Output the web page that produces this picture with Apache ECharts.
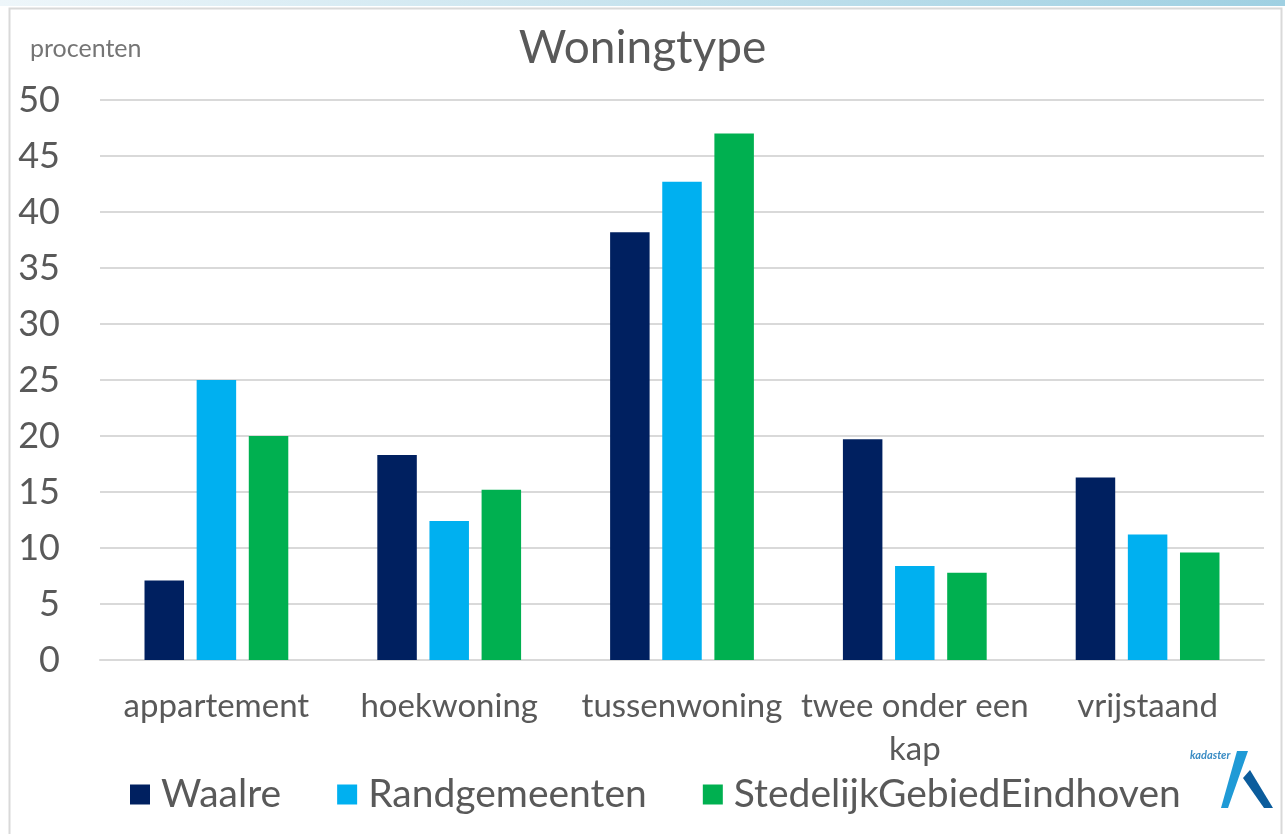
<!DOCTYPE html>
<html>
<head>
<meta charset="utf-8">
<script src="https://cdn.jsdelivr.net/npm/echarts@6/dist/echarts.min.js"></script>
<style>
html,body{margin:0;padding:0;background:#fff;}
#chart{width:1285px;height:834px;}
</style>
</head>
<body>
<div id="chart"></div>
<script>
const categories = ['appartement', 'hoekwoning', 'tussenwoning', 'twee onder een\nkap', 'vrijstaand'];
const waalre = [7.1, 18.3, 38.2, 19.7, 16.3];
const randgemeenten = [25.0, 12.4, 42.7, 8.4, 11.2];
const stedelijk = [20.0, 15.2, 47.0, 7.8, 9.6];
const seriesNames = ['Waalre', 'Randgemeenten', 'StedelijkGebiedEindhoven'];
const yTicks = {min: 0, max: 50, interval: 5};

const colors = ['#002060', '#00B0F0', '#00B050'];
const font = 'Lato, "Open Sans", sans-serif';
const chart = echarts.init(document.getElementById('chart'));
const mk = (name, data, i) => ({
  name, type: 'bar', data, barWidth: 39.5, barGap: '32%',
  itemStyle: {color: colors[i]}
});
chart.setOption({
  animation: false,
  title: {text: 'Woningtype', left: 'center', top: 20,
    textStyle: {fontFamily: font, fontSize: 46, fontWeight: 'normal', color: '#595959'}},
  grid: {left: 100, right: 21, top: 100, bottom: 174},
  legend: {bottom: 15, left: 125, itemWidth: 20, itemHeight: 20, itemGap: 56,
    icon: 'rect',
    textStyle: {fontFamily: font, fontSize: 39, color: '#595959', padding: [0,0,0,6]}},
  xAxis: {type: 'category', data: categories,
    axisLine: {lineStyle: {color: '#d9d9d9', width: 2}},
    axisTick: {show: false},
    axisLabel: {fontFamily: font, fontSize: 33, color: '#595959', margin: 25, lineHeight: 43, interval: 0}},
  yAxis: {type: 'value', min: yTicks.min, max: yTicks.max, interval: yTicks.interval,
    axisLine: {show: false}, axisTick: {show: false},
    splitLine: {lineStyle: {color: '#d9d9d9', width: 2}},
    axisLabel: {fontFamily: font, fontSize: 36, color: '#595959', margin: 40}},
  series: [mk(seriesNames[0], waalre, 0), mk(seriesNames[1], randgemeenten, 1), mk(seriesNames[2], stedelijk, 2)],
  graphic: [
    {type: 'rect', left: 0, top: 0, shape: {width: 1285, height: 6},
      style: {fill: new echarts.graphic.LinearGradient(0,0,1,0,[{offset:0,color:'#eef6fa'},{offset:1,color:'#9fd0e2'}])}},
    {type: 'rect', left: 7, top: 6, shape: {width: 1272, height: 832},
      style: {fill: 'none', stroke: '#d9d9d9', lineWidth: 2}},
    {type: 'text', left: 30, top: 36, style: {text: 'procenten', fontFamily: font, fontSize: 25, fill: '#757575'}},
    {type: 'text', left: 1190, top: 750, style: {text: 'kadaster', fontFamily: font, fontSize: 11, fontStyle: 'italic', fontWeight: 'bold', fill: '#3a8cc4'}},
    {type: 'polygon', shape: {points: [[1237,751],[1248,751],[1228,808],[1221,808]]}, style: {fill: '#1f9ad6'}},
    {type: 'polygon', shape: {points: [[1243,778],[1250,770],[1273,808],[1264,808]]}, style: {fill: '#0b5c9c'}}
  ]
});
</script>
</body>
</html>
